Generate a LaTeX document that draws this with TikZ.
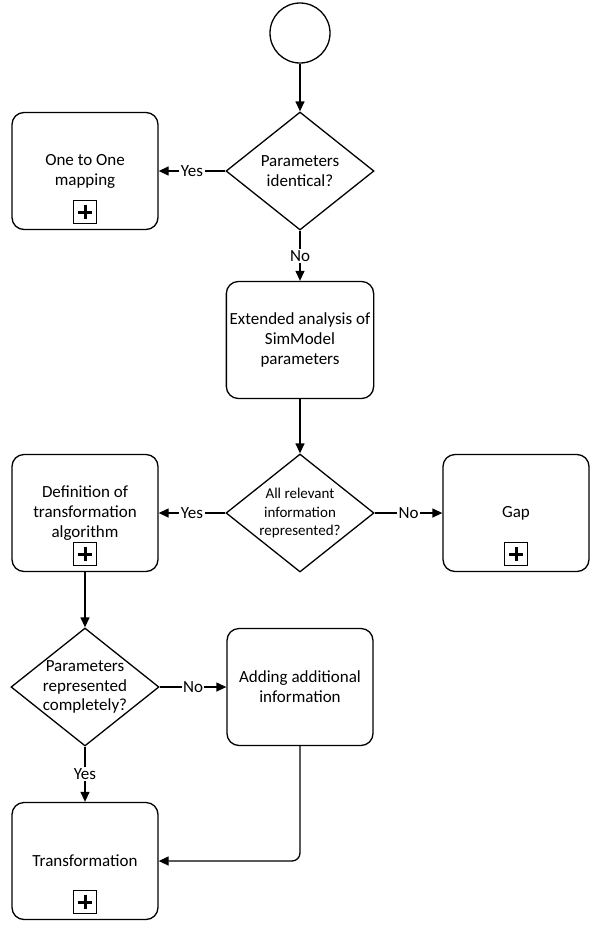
\documentclass[tikz,border=0pt]{standalone}
\usepackage{fontspec}
\setmainfont{Carlito}
\usetikzlibrary{positioning,shapes.geometric,arrows.meta}

\begin{document}
\begin{tikzpicture}[x=1pt, y=-1pt,
                    taskbox/.style={rectangle, rounded corners=12pt, draw, line width=1.3pt, minimum width=146pt, minimum height=117pt, align=center, font=\fontsize{17}{20}\selectfont},
                    decision/.style={diamond, draw, line width=1.3pt, minimum width=148pt, minimum height=118pt, shape aspect=1.25, inner sep=-6pt, align=center, font=\fontsize{17}{20}\selectfont},
                    startnode/.style={circle, draw, line width=1.3pt, minimum size=60pt},
                    submark/.style={rectangle, draw, line width=1.1pt, minimum size=23pt, inner sep=0pt,
                        path picture={\draw[line width=3pt] ([xshift=-7pt]path picture bounding box.center) -- ([xshift=7pt]path picture bounding box.center);
                                      \draw[line width=3pt] ([yshift=-7pt]path picture bounding box.center) -- ([yshift=7pt]path picture bounding box.center);}},
                    flow/.style={line width=1.3pt, -{Triangle[length=10pt,width=9pt]}},
                    answer/.style={fill=white, inner sep=1.5pt, font=\fontsize{17}{20}\selectfont},
                ]
                    \useasboundingbox (0,0) rectangle (599,930);

                    %Nodes
                    \node[startnode](start) at (300,33) {};
                    \node[decision](identical) at (300,171) {Parameters\\identical?};
                    \node[taskbox](onetoone) at (85,171) {One to One\\mapping};
                    \node[taskbox](extended) at (300,340) {Extended analysis of\\SimModel\\parameters};
                    \node[decision, font=\fontsize{15}{18.5}\selectfont](relevant) at (300,513) {All relevant\\information\\represented?};
                    \node[taskbox](definition) at (85,513) {Definition of\\transformation\\algorithm};
                    \node[taskbox](gap) at (516,513) {Gap};
                    \node[decision, font=\fontsize{17}{19.5}\selectfont](complete) at (85,687) {Parameters\\represented\\completely?};
                    \node[taskbox](adding) at (300,687) {Adding additional\\information};
                    \node[taskbox](transform) at (85,861) {Transformation};

                    %Sub-process markers
                    \node[submark](mark1)[above=6pt of onetoone.south] {};
                    \node[submark](mark2)[above=6pt of definition.south] {};
                    \node[submark](mark3)[above=6pt of gap.south] {};
                    \node[submark](mark4)[above=6pt of transform.south] {};

                    %Lines
                    \draw[flow](start.south) -- (identical.north);
                    \draw[flow](identical.west) -- node[answer]{Yes} (onetoone.east);
                    \draw[flow](identical.south) -- node[answer]{No} (extended.north);
                    \draw[flow](extended.south) -- (relevant.north);
                    \draw[flow](relevant.west) -- node[answer]{Yes} (definition.east);
                    \draw[flow](relevant.east) -- node[answer]{No} (gap.west);
                    \draw[flow](definition.south) -- (complete.north);
                    \draw[flow](complete.east) -- node[answer]{No} (adding.west);
                    \draw[flow](complete.south) -- node[answer]{Yes} (transform.north);
                    \draw[flow, rounded corners=8pt](adding.south) |- (transform.east);
                \end{tikzpicture}
\end{document}
